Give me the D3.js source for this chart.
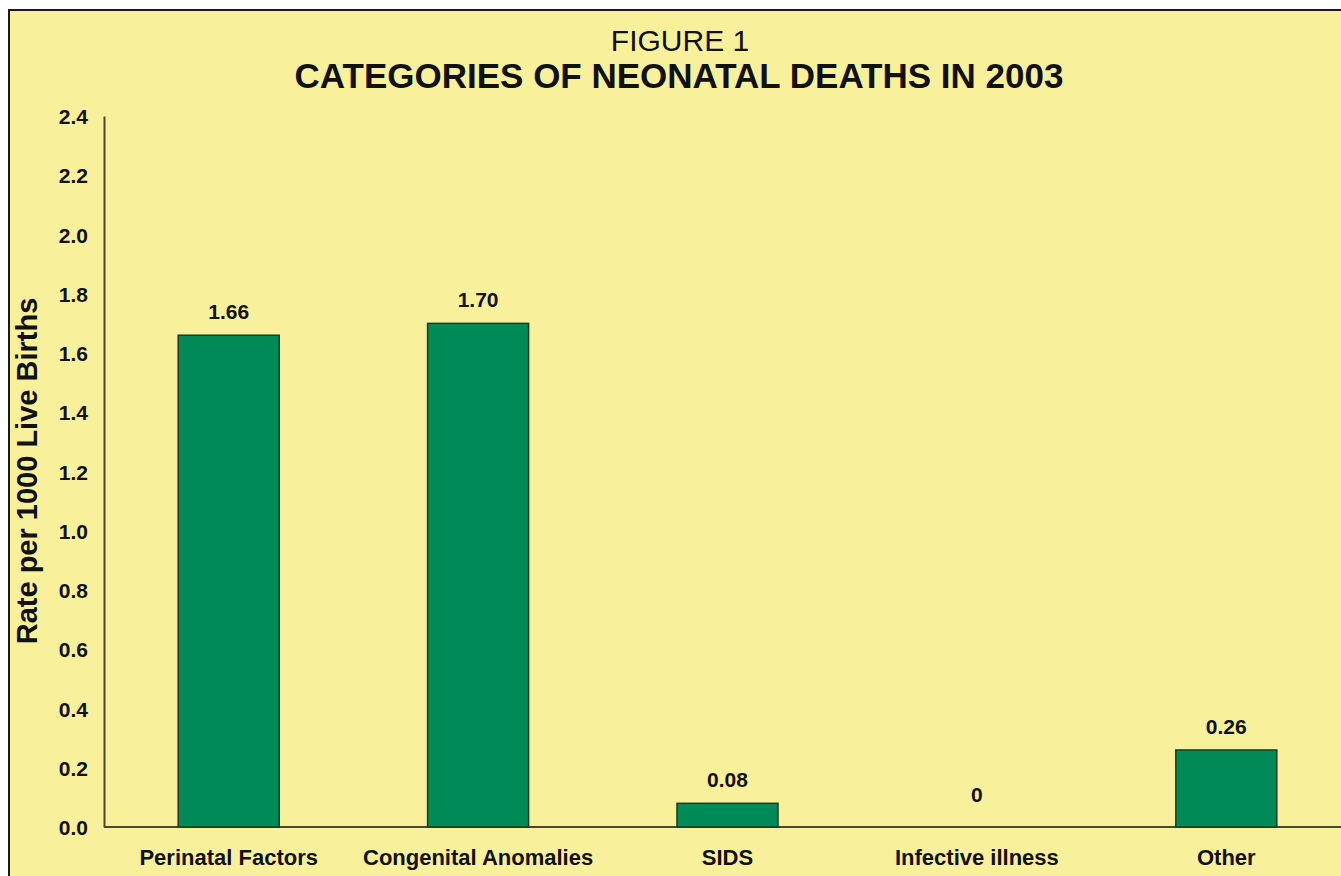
<!DOCTYPE html>
<html>
<head>
<meta charset="utf-8">
<script src="https://cdn.jsdelivr.net/npm/d3@7"></script>
<style>
  body { margin: 0; background: #fff; }
  svg { display: block; font-family: "Liberation Sans", Arial, sans-serif; }
  .tick text { font-weight: bold; fill: #111; }
</style>
</head>
<body>
<svg width="1341" height="876"></svg>
<script>
const categories = ["Perinatal Factors", "Congenital Anomalies", "SIDS", "Infective illness", "Other"];
const values = [1.66, 1.70, 0.08, 0, 0.26];
const valueLabels = ["1.66", "1.70", "0.08", "0", "0.26"];
const yTicks = [0, 0.2, 0.4, 0.6, 0.8, 1.0, 1.2, 1.4, 1.6, 1.8, 2.0, 2.2, 2.4];

const svg = d3.select("svg");
const width = +svg.attr("width");
const height = +svg.attr("height");

// yellow panel with a dark frame, running off the right and bottom edges
svg.append("rect")
  .attr("x", 9).attr("y", 10)
  .attr("width", width + 10).attr("height", height + 10)
  .attr("fill", "#f8f09a")
  .attr("stroke", "#1a1a1a")
  .attr("stroke-width", 2);

const margin = { top: 116, right: -10, bottom: 49, left: 104 };
const innerWidth = width - margin.left - margin.right;
const innerHeight = height - margin.top - margin.bottom;

const g = svg.append("g")
  .attr("transform", `translate(${margin.left},${margin.top})`);

const xScale = d3.scaleBand()
  .domain(categories)
  .range([0, innerWidth])
  .paddingInner(0.595)
  .paddingOuter(0.2975);

const yScale = d3.scaleLinear()
  .domain([0, 2.4])
  .range([innerHeight, 0]);

const yAxis = d3.axisLeft(yScale)
  .tickValues(yTicks)
  .tickFormat(d3.format(".1f"))
  .tickSize(0)
  .tickPadding(16);

const yAxisG = g.append("g").call(yAxis);
yAxisG.select(".domain").attr("stroke", "#4a4a2a").attr("stroke-width", 2);
yAxisG.selectAll(".tick text")
  .attr("font-size", "21px")
  .attr("dy", "0.36em");

const xAxis = d3.axisBottom(xScale)
  .tickSize(0)
  .tickPadding(22);

const xAxisG = g.append("g")
  .attr("transform", `translate(0,${innerHeight})`)
  .call(xAxis);
xAxisG.select(".domain").remove();
xAxisG.selectAll(".tick text").attr("font-size", "22px");

g.append("line")
  .attr("x1", 0).attr("x2", innerWidth + 20)
  .attr("y1", innerHeight).attr("y2", innerHeight)
  .attr("stroke", "#4a4a2a")
  .attr("stroke-width", 2);

g.selectAll(".bar")
  .data(values)
  .enter()
  .append("rect")
  .attr("class", "bar")
  .attr("x", (d, i) => xScale(categories[i]))
  .attr("y", d => yScale(d))
  .attr("width", xScale.bandwidth())
  .attr("height", d => innerHeight - yScale(d))
  .attr("fill", "#008a58")
  .attr("stroke", "#1d3a22")
  .attr("stroke-width", d => d > 0 ? 1.5 : 0);

g.selectAll(".value-label")
  .data(values)
  .enter()
  .append("text")
  .attr("class", "value-label")
  .attr("x", (d, i) => xScale(categories[i]) + xScale.bandwidth() / 2)
  .attr("y", d => Math.min(yScale(d) - 16, innerHeight - 25))
  .attr("text-anchor", "middle")
  .attr("font-weight", "bold")
  .attr("font-size", "21px")
  .attr("fill", "#111")
  .text((d, i) => valueLabels[i]);

g.append("text")
  .attr("transform", "rotate(-90)")
  .attr("x", -355)
  .attr("y", -67)
  .attr("text-anchor", "middle")
  .attr("font-weight", "bold")
  .attr("font-size", "29px")
  .attr("fill", "#111")
  .text("Rate per 1000 Live Births");

svg.append("text")
  .attr("x", 680).attr("y", 51)
  .attr("text-anchor", "middle")
  .attr("font-size", "30px")
  .attr("fill", "#111")
  .text("FIGURE 1");

svg.append("text")
  .attr("x", 679).attr("y", 88)
  .attr("text-anchor", "middle")
  .attr("font-weight", "bold")
  .attr("font-size", "35px")
  .attr("fill", "#111")
  .text("CATEGORIES OF NEONATAL DEATHS IN 2003");
</script>
</body>
</html>
